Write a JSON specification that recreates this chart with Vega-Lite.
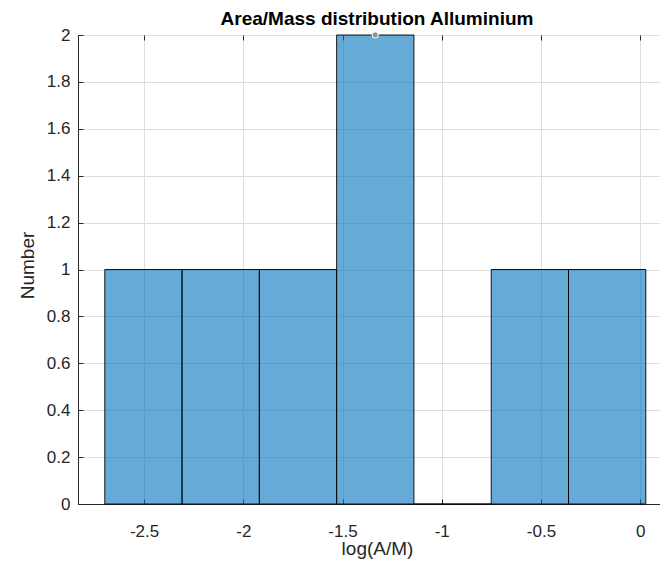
{
  "$schema": "https://vega.github.io/schema/vega-lite/v6.json",
  "autosize": {"type": "none"},
  "padding": {"left": 78, "top": 35, "right": 0, "bottom": 61},
  "width": 582,
  "height": 469,
  "background": "white",
  "title": {
    "text": "Area/Mass distribution Alluminium",
    "anchor": "middle",
    "frame": "group",
    "baseline": "alphabetic",
    "offset": 7,
    "dx": 8,
    "dy": 25,
    "font": "Liberation Sans",
    "fontSize": 19,
    "fontWeight": "bold",
    "color": "#000000"
  },
  "datasets": {
    "bins": [
      {"start": -2.698, "end": -2.3085, "count": 1},
      {"start": -2.3085, "end": -1.919, "count": 1},
      {"start": -1.919, "end": -1.5295, "count": 1},
      {"start": -1.5295, "end": -1.14, "count": 2},
      {"start": -1.14, "end": -0.7505, "count": 0},
      {"start": -0.7505, "end": -0.361, "count": 1},
      {"start": -0.361, "end": 0.0285, "count": 1}
    ],
    "tip": [{"x": -1.335, "y": 2}]
  },
  "layer": [
    {
      "data": {"name": "bins"},
      "mark": {"type": "bar", "fill": "#0072BD", "fillOpacity": 0.6, "stroke": "#000000", "strokeWidth": 0.9},
      "encoding": {
        "x": {
          "field": "start", "type": "quantitative",
          "scale": {"domain": [-2.833, 0.1], "nice": false, "zero": false},
          "axis": {
            "orient": "bottom",
            "values": [-2.5, -2, -1.5, -1, -0.5, 0],
            "labelExpr": "'' + datum.value",
            "title": "log(A/M)",
            "titleX": 299, "titleY": 50, "titleBaseline": "alphabetic",
            "titleFontSize": 19, "titleFontWeight": "normal", "titleColor": "#262626",
            "labelFontSize": 17, "labelColor": "#262626", "labelPadding": 24,
            "tickSize": -5, "tickColor": "#262626",
            "domainColor": "#262626",
            "grid": true, "gridColor": "#dedede"
          }
        },
        "x2": {"field": "end"},
        "y": {
          "field": "count", "type": "quantitative",
          "scale": {"domain": [0, 2], "nice": false},
          "axis": {
            "values": [0, 0.2, 0.4, 0.6, 0.8, 1, 1.2, 1.4, 1.6, 1.8, 2],
            "labelExpr": "'' + datum.value",
            "title": "Number",
            "titleX": -45, "titleY": 230, "titleBaseline": "alphabetic", "titleAngle": -90,
            "titleFontSize": 19, "titleFontWeight": "normal", "titleColor": "#262626",
            "labelFontSize": 17, "labelColor": "#262626", "labelPadding": 13,
            "tickSize": -5, "tickColor": "#262626",
            "domainColor": "#262626",
            "grid": true, "gridColor": "#dedede"
          }
        },
        "y2": {"datum": 0}
      }
    },
    {
      "data": {"name": "tip"},
      "mark": {"type": "point", "filled": true, "fill": "#8a958f", "stroke": "#ffffff", "strokeWidth": 1, "strokeOpacity": 1, "opacity": 1, "size": 40, "clip": false},
      "encoding": {
        "x": {
          "field": "x", "type": "quantitative",
          "axis": {
            "orient": "top",
            "values": [-2.5, -2, -1.5, -1, -0.5, 0],
            "labels": false, "title": null, "grid": false, "domain": false,
            "tickSize": -5, "tickColor": "#262626"
          }
        },
        "y": {"field": "y", "type": "quantitative"}
      }
    }
  ],
  "resolve": {"axis": {"x": "independent"}},
  "config": {
    "font": "Liberation Sans",
    "view": {"stroke": "#262626", "strokeWidth": 1}
  }
}
